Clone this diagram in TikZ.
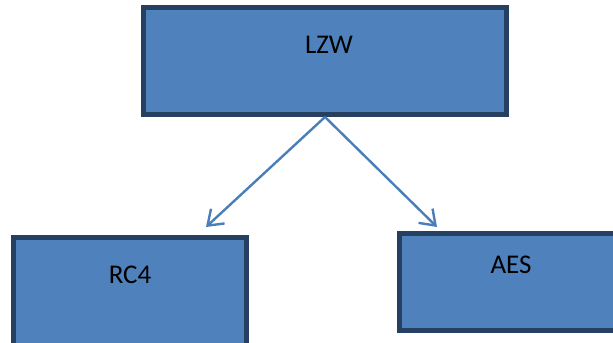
\documentclass[tikz,border=0pt]{standalone}
\usepackage{fontspec}
\setmainfont{Carlito}
\usepackage{xcolor}
\definecolor{boxblue}{RGB}{79,129,189}
\definecolor{boxedge}{RGB}{37,64,97}
\definecolor{arrowblue}{RGB}{74,126,187}
\usepackage{tikz}
\usetikzlibrary{arrows.meta, positioning, calc}

\tikzset{
  algobox/.style={draw=boxedge, fill=boxblue, line width=2.5pt, inner sep=0pt},
  algolabel/.style={font=\fontsize{13.5}{15}\selectfont, text=black, inner sep=0pt},
  flowarrow/.style={draw=arrowblue, line width=1.2pt,
      -{Straight Barb[length=7pt,width=10pt,line width=1.2pt]}}
}

\begin{document}
\begin{tikzpicture}[x=0.5pt, y=-0.5pt]

\useasboundingbox (0,0) rectangle (613,342);
\clip (0,0) rectangle (613,342);

% Top box
\node[algobox, minimum width=181.5pt, minimum height=53.5pt] (lzw) at (325,61) {};
\node[algolabel] (lzwtext) at ($(lzw.north)+(4,40)$) {LZW};

% Bottom left box
\node[algobox, minimum width=116.5pt, minimum height=56pt] (rc4) at (130,293.5) {};
\node[algolabel] (rc4text) at ($(rc4.north)+(0,40)$) {RC4};

% Bottom right box
\node[algobox, minimum width=111.5pt, minimum height=48.5pt] (aes) at (511,282) {};
\node[algolabel] (aestext) at ($(aes.north)+(0,34)$) {AES};

% Arrows
\coordinate (rc4in) at ($(rc4.north)+(76,-8)$);
\coordinate (aesin) at ($(aes.north)+(-74,-4)$);
\draw[flowarrow] (lzw.south) -- (rc4in);
\draw[flowarrow] (lzw.south) -- (aesin);

\end{tikzpicture}
\end{document}
